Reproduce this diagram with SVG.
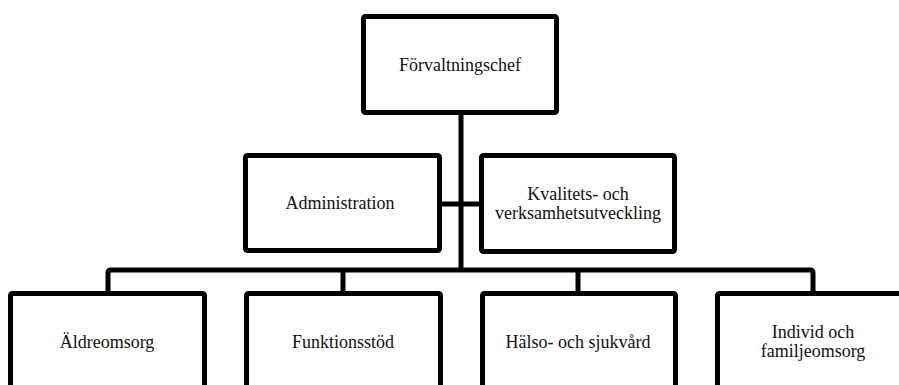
<svg xmlns="http://www.w3.org/2000/svg" width="899" height="385" viewBox="0 0 899 385">
<style>
.box{fill:#fff;stroke:#000;stroke-width:5}
.con{fill:none;stroke:#000;stroke-width:5}
text{font-family:"Liberation Serif","Times New Roman",serif;font-size:18px;fill:#111;text-anchor:middle}
</style>
<rect width="899" height="385" fill="#fff"/>
<g id="connectors">
<path class="con" d="M461,112 V270"/>
<path class="con" d="M441,204 H480"/>
<path class="con" d="M108,293 V273 Q108,270 111,270 H810 Q813,270 813,273 V293"/>
<path class="con" d="M343,270 V293"/>
<path class="con" d="M578,270 V293"/>
</g>
<g id="n-forvaltningschef">
<rect class="box" x="363.5" y="16.5" width="193" height="96" rx="2"/>
<text x="460" y="71">Förvaltningschef</text>
</g>
<g id="n-administration">
<rect class="box" x="245.5" y="155.5" width="194" height="95" rx="2"/>
<text x="340" y="209">Administration</text>
</g>
<g id="n-kvalitet">
<rect class="box" x="481.5" y="155.5" width="193" height="96" rx="2"/>
<text x="578" y="200">Kvalitets- och</text>
<text x="578" y="219">verksamhetsutveckling</text>
</g>
<g id="n-aldreomsorg">
<rect class="box" x="10.5" y="293.5" width="194" height="110" rx="2"/>
<text x="107" y="348">Äldreomsorg</text>
</g>
<g id="n-funktionsstod">
<rect class="box" x="246.5" y="293.5" width="194" height="110" rx="2"/>
<text x="343" y="348">Funktionsstöd</text>
</g>
<g id="n-halso">
<rect class="box" x="482.5" y="293.5" width="193" height="110" rx="2"/>
<text x="578" y="348">Hälso- och sjukvård</text>
</g>
<g id="n-individ">
<rect class="box" x="717.5" y="293.5" width="193" height="110" rx="2"/>
<text x="813" y="338">Individ och</text>
<text x="813" y="357">familjeomsorg</text>
</g>
</svg>
